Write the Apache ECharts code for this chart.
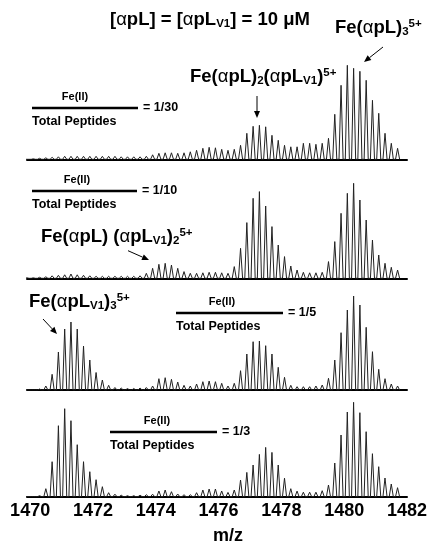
<!DOCTYPE html>
<html>
<head>
<meta charset="utf-8">
<script src="https://cdn.jsdelivr.net/npm/echarts@6/dist/echarts.min.js"></script>
<style>
html, body { margin: 0; padding: 0; background: #fff; }
#chart { width: 430px; height: 546px; }
</style>
</head>
<body>
<div id="chart"></div>
<script>
// isotope peak positions (m/z), spacing 0.2 for the 5+ ions
const mz = [
  1469.9, 1470.1, 1470.3, 1470.5, 1470.7, 1470.9, 1471.1, 1471.3, 1471.5, 1471.7,
  1471.9, 1472.1, 1472.3, 1472.5, 1472.7, 1472.9, 1473.1, 1473.3, 1473.5, 1473.7,
  1473.9, 1474.1, 1474.3, 1474.5, 1474.7, 1474.9, 1475.1, 1475.3, 1475.5, 1475.7,
  1475.9, 1476.1, 1476.3, 1476.5, 1476.7, 1476.9, 1477.1, 1477.3, 1477.5, 1477.7,
  1477.9, 1478.1, 1478.3, 1478.5, 1478.7, 1478.9, 1479.1, 1479.3, 1479.5, 1479.7,
  1479.9, 1480.1, 1480.3, 1480.5, 1480.7, 1480.9, 1481.1, 1481.3, 1481.5, 1481.7
];

// relative intensities, one list per Fe(II)/peptide ratio
const ratio1_30 = [
  0, 0.5, 1, 1.5, 2, 2.5, 3, 3, 3, 3,
  3, 3, 3, 3, 3, 2.5, 2.5, 2.5, 2.5, 3,
  4.5, 6, 6.5, 6.5, 6, 6.5, 7.5, 9, 11, 12,
  11.5, 10, 9, 10, 14, 26, 33, 34, 32.5, 24,
  19, 14, 12.5, 12.5, 16, 16, 15, 16, 21, 45,
  74, 94, 91, 88, 79, 59, 46, 26, 16, 11
];
const ratio1_10 = [
  0.5, 0.5, 1, 1.5, 2.5, 3, 3.5, 4.3, 3.5, 3,
  2.5, 2, 2, 2, 2, 2, 2, 2, 2.5, 5,
  10, 14, 15, 13.3, 10, 6.7, 5, 5, 5.5, 6,
  6, 5.5, 5, 11.7, 30, 55.7, 80, 86.7, 72.3, 51.7,
  33.3, 21.7, 12.3, 8.3, 6, 5.5, 5.5, 6, 16.7, 36.7,
  65, 85, 95, 78.3, 58.3, 38.3, 23.3, 15, 11, 8.3
];
const ratio1_5 = [
  0, 0, 1, 4, 15.7, 38, 61, 68, 61, 44,
  30, 17.5, 10, 4.7, 2.5, 2, 1.5, 1.5, 2, 2.5,
  4, 11.3, 12.3, 10.7, 8, 4.7, 4, 6, 8.3, 9,
  8.3, 6.7, 4, 6.7, 19.3, 36, 48.3, 49, 44.3, 36,
  22.7, 12.7, 4.7, 3.3, 3.3, 3.3, 4, 5, 11.7, 30,
  57.3, 80, 94, 85, 62.7, 38.3, 20.7, 11.3, 6, 4
];
const ratio1_3 = [
  0, 0, 1, 8, 35, 71, 88, 76, 52, 35,
  25, 17, 10, 4, 2.5, 1.5, 1, 1, 1.5, 2,
  2.5, 5.7, 6.7, 5, 2.7, 2, 2, 4, 6.7, 7.7,
  7.7, 5.7, 4.3, 6.7, 16.7, 24.3, 31.7, 42.3, 49.3, 44.3,
  31.7, 18.5, 8, 5.6, 4.5, 4.5, 4.5, 6, 11.7, 33.7,
  61.7, 84.7, 94.4, 84, 65, 43, 30, 18.7, 12.7, 9
];
const tickLabels = [1470, 1472, 1474, 1476, 1478, 1480, 1482];
const ratioLabels = ['= 1/30', '= 1/10', '= 1/5', '= 1/3'];

const panels = [ratio1_30, ratio1_10, ratio1_5, ratio1_3];
const baselines = [159.3, 278.3, 390, 496.7];
const FONT = 'Liberation Sans, Arial, sans-serif';
const HALF = 0.065; // half width of a peak at its base

// each peak drawn as a narrow spike on the baseline
function trace(h) {
  const pts = [];
  mz.forEach((m, i) => {
    pts.push([m - HALF, 0], [m, h[i]], [m + HALF, 0]);
  });
  return pts;
}

function arrow(x1, y1, x2, y2) {
  const a = Math.atan2(y2 - y1, x2 - x1), L = 7, W = 3;
  const bx = x2 - L * Math.cos(a), by = y2 - L * Math.sin(a);
  const px = -Math.sin(a) * W, py = Math.cos(a) * W;
  return [
    { type: 'line', shape: { x1: x1, y1: y1, x2: bx, y2: by }, style: { stroke: '#000', lineWidth: 1 } },
    { type: 'polygon', shape: { points: [[x2, y2], [bx + px, by + py], [bx - px, by - py]] }, style: { fill: '#000' } }
  ];
}

function txt(x, y, text, size, align) {
  return {
    type: 'text', x: x, y: y,
    style: {
      text: text, fill: '#000', font: 'bold ' + size + 'px ' + FONT,
      align: align || 'left', textAlign: align || 'left',
      verticalAlign: 'middle', textVerticalAlign: 'middle'
    }
  };
}

const rich = {
  a: { fontFamily: FONT, fontWeight: 'bold', fontSize: 18.5, lineHeight: 20, fill: '#000' },
  g: { fontFamily: FONT, fontWeight: 'normal', fontSize: 18.5, lineHeight: 20, fill: '#000' },
  s: { fontFamily: FONT, fontWeight: 'bold', fontSize: 11.5, lineHeight: 9, verticalAlign: 'bottom', fill: '#000' },
  p: { fontFamily: FONT, fontWeight: 'bold', fontSize: 11.5, lineHeight: 15, verticalAlign: 'top', fill: '#000' }
};
function label(x, y, text) {
  return {
    type: 'text', x: x, y: y,
    style: { text: text, rich: rich, fill: '#000', font: 'bold 18.5px ' + FONT,
      align: 'left', textAlign: 'left', verticalAlign: 'middle', textVerticalAlign: 'middle' }
  };
}

// fraction "Fe(II) / Total Peptides = r"
function fraction(cx, y, x1, x2, r) {
  return [
    txt(cx, y - 11, 'Fe(II)', 11, 'center'),
    { type: 'line', shape: { x1: x1, y1: y, x2: x2, y2: y }, style: { stroke: '#000', lineWidth: 2.6 } },
    txt(x2 + 5, y, r, 12.5),
    txt(x1, y + 14, 'Total Peptides', 12.5)
  ];
}

const graphics = [].concat(
  [label(110, 20, '{a|[}{g|α}{a|pL] = [}{g|α}{a|pL}{s|V1}{a|] = 10 μM}')],
  [label(335, 28, '{a|Fe(}{g|α}{a|pL)}{s|3}{p|5+}')],
  arrow(383, 47, 364, 62),
  [label(190, 77, '{a|Fe(}{g|α}{a|pL)}{s|2}{a|(}{g|α}{a|pL}{s|V1}{a|)}{p|5+}')],
  arrow(257, 96, 257, 118),
  [label(41, 236.5, '{a|Fe(}{g|α}{a|pL) (}{g|α}{a|pL}{s|V1}{a|)}{s|2}{p|5+}')],
  arrow(128, 250.7, 149, 260),
  [label(29, 301.7, '{a|Fe(}{g|α}{a|pL}{s|V1}{a|)}{s|3}{p|5+}')],
  arrow(43, 319, 57, 334),
  fraction(75, 108, 32, 138, ratioLabels[0]),
  fraction(77, 191, 32, 137, ratioLabels[1]),
  fraction(222, 313, 176, 283, ratioLabels[2]),
  fraction(157, 432, 110, 217, ratioLabels[3]),
  [txt(228, 536, 'm/z', 18, 'center')]
);

const chart = echarts.init(document.getElementById('chart'));
chart.setOption({
  animation: false,
  backgroundColor: '#fff',
  grid: baselines.map(b => ({ left: 27, right: 23, top: b - 100, height: 100 })),
  xAxis: baselines.map((b, i) => ({
    gridIndex: i, type: 'value', min: 1469.9, max: 1482,
    axisLine: { show: true, onZero: false, lineStyle: { color: '#000', width: 2 } },
    axisTick: { show: false },
    splitLine: { show: false },
    axisLabel: i === 3 ? {
      show: true, customValues: tickLabels, margin: 5, formatter: v => String(v),
      color: '#000', fontFamily: FONT, fontWeight: 'bold', fontSize: 18
    } : { show: false }
  })),
  yAxis: baselines.map((b, i) => ({ gridIndex: i, type: 'value', min: 0, max: 100, show: false })),
  series: panels.map((h, i) => ({
    type: 'line', xAxisIndex: i, yAxisIndex: i,
    data: trace(h), showSymbol: false, symbol: 'none',
    lineStyle: { color: '#222', width: 1 }
  })),
  graphic: graphics
});
</script>
</body>
</html>
